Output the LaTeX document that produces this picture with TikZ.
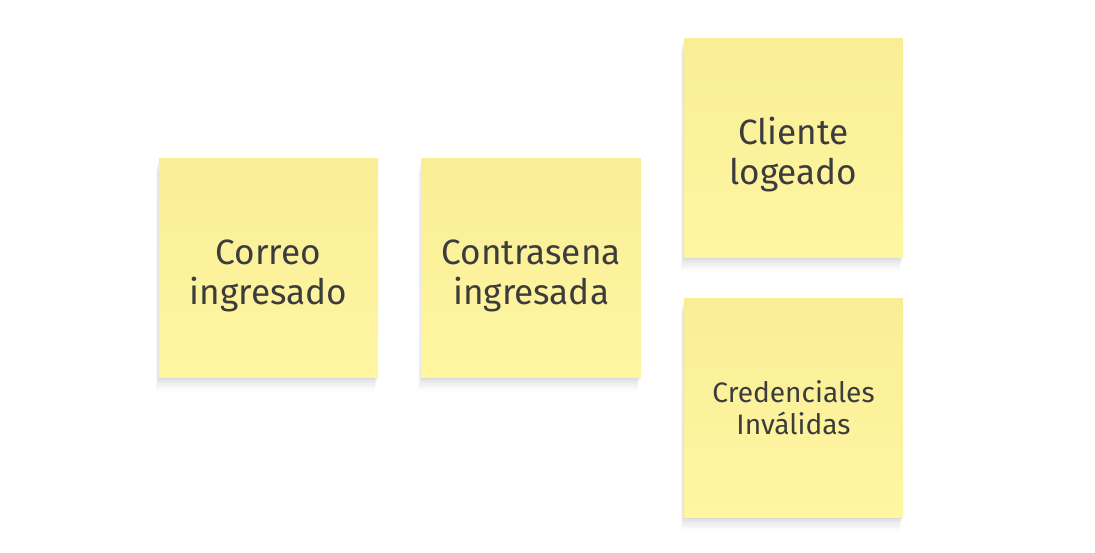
\documentclass[tikz,border=0pt]{standalone}
\usepackage{fontspec}
\setmainfont{Fira Sans}
\definecolor{NoteTop}{RGB}{249, 238, 150}
\definecolor{NoteBottom}{RGB}{255, 246, 162}
\definecolor{NoteText}{RGB}{60, 60, 60}
\usepackage{tikz}
\usetikzlibrary{positioning, shadows}
\newcommand{\notelift}{\rule{0pt}{0.8cm}}

\begin{document}
\begin{tikzpicture}[
            note/.style={rectangle, minimum width=4.38cm, minimum height=4.38cm, align=center,
                top color=NoteTop, bottom color=NoteBottom, text=NoteText,
                drop shadow={shadow xshift=-0.07cm, shadow yshift=-0.28cm, opacity=0.03},
                drop shadow={shadow xshift=-0.06cm, shadow yshift=-0.22cm, opacity=0.04},
                drop shadow={shadow xshift=-0.05cm, shadow yshift=-0.17cm, opacity=0.05},
                drop shadow={shadow xshift=-0.04cm, shadow yshift=-0.12cm, opacity=0.06},
                drop shadow={shadow xshift=-0.02cm, shadow yshift=-0.07cm, opacity=0.07},
                drop shadow={shadow xshift=0cm, shadow yshift=-0.03cm, opacity=0.09}},
            big/.style={font=\fontsize{20}{22.7}\selectfont},
            small/.style={font=\fontsize{16}{18.2}\selectfont},
        ]
            \useasboundingbox (0,0) rectangle (21.9,-11.06);
            \node[note, big] (correo) at (5.37,-5.36) {\notelift Correo\\ingresado};
            \node[note, big, right=0.86cm of correo] (contrasena) {\notelift Contrasena\\ingresada};
            \node[note, big] (cliente) at (15.87,-2.96) {\notelift Cliente\\logeado};
            \node[note, small, below=0.8cm of cliente] (credenciales) {Credenciales\\Inválidas};
        \end{tikzpicture}
\end{document}
